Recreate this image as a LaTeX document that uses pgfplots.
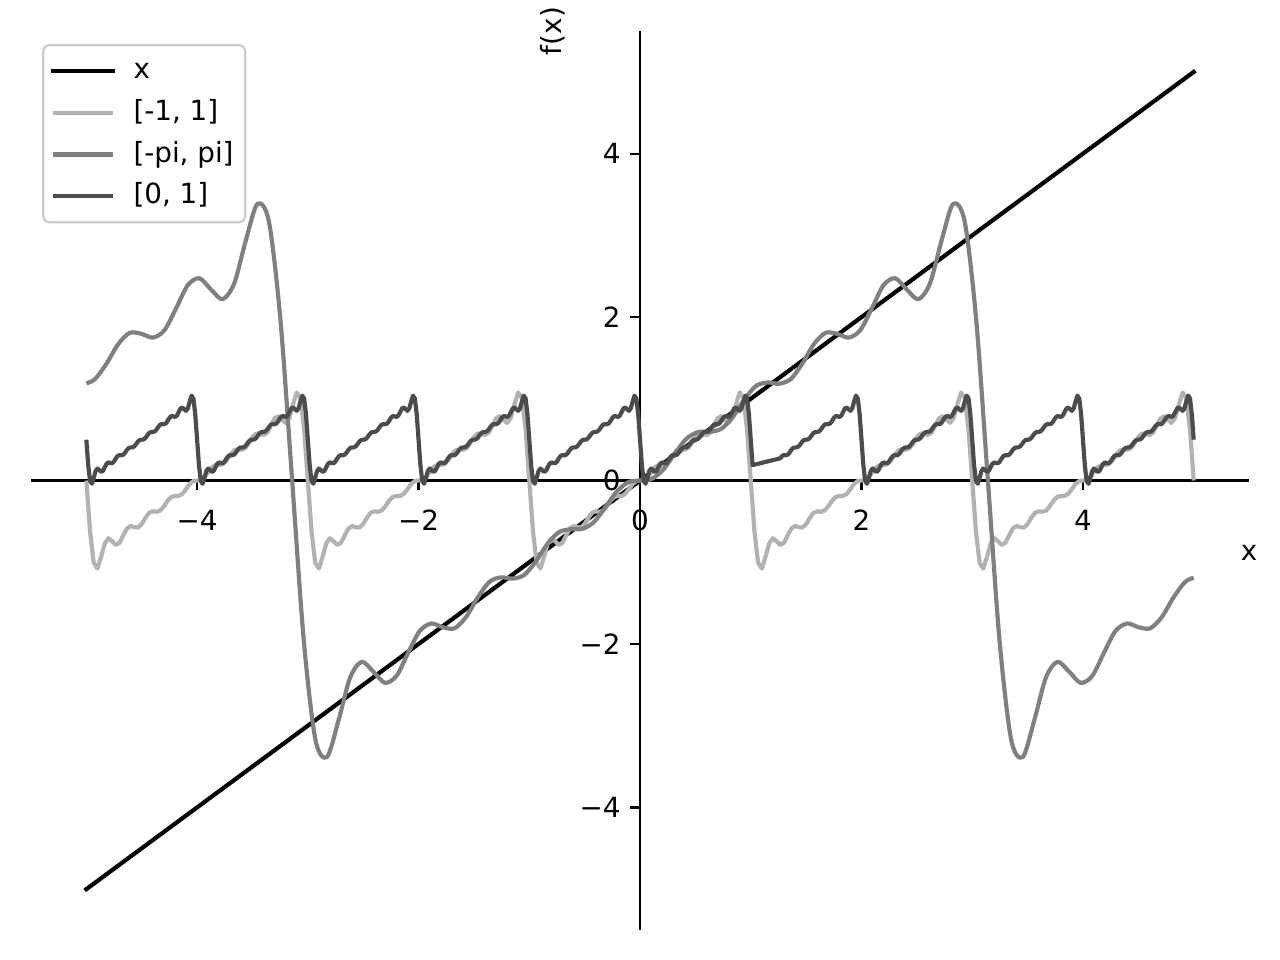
\documentclass[border=0pt]{standalone}
\usepackage{pgfplots}
\pgfplotsset{compat=1.18}
\usepackage{fontspec}
\setmainfont{DejaVu Sans}
\definecolor{clight}{gray}{0.70}
\definecolor{cmid}{gray}{0.50}
\definecolor{cdark}{gray}{0.30}
\begin{document}
\begin{tikzpicture}
\useasboundingbox (0,0) rectangle (460.8pt,345.6pt);
\begin{axis}[
  at={(11.16pt,10.8pt)}, anchor=south west,
  scale only axis, width=438.5pt, height=323.6pt,
  xmin=-5.5, xmax=5.5, ymin=-5.5, ymax=5.5,
  axis lines=middle,
  axis line style={-, line width=0.8pt, black},
  xtick={-4,-2,0,2,4}, xticklabels={−4,−2,0,2,4},
  ytick={-4,-2,0,2,4}, yticklabels={−4,−2,0,2,4},
  hide obscured x ticks=false, hide obscured y ticks=false,
  tick align=outside, major tick length=3.5pt, minor tick num=0,
  every tick/.style={black, line width=0.8pt},
  xticklabel style={yshift=-3.5pt},
  yticklabel style={xshift=0pt},
  xlabel={x}, ylabel={f(x)},
  every axis x label/.style={at={(axis cs:5.5,0)}, anchor=center, yshift=-25.9pt},
  every axis y label/.style={at={(axis cs:0,5.5)}, anchor=center, xshift=-31.5pt, rotate=90},
  legend style={at={(axis description cs:0,1)}, anchor=north west, xshift=4pt, yshift=-4.7pt,
    draw=black!20, line width=0.8pt, rounded corners=2pt, fill=white,
    inner xsep=2.7pt, inner ysep=2.6pt, row sep=1.5pt, column sep=5.2pt,
    nodes={inner sep=1.5pt, text height=8pt, text depth=2.5pt}},
  legend cell align=left,
  legend image code/.code={\draw[#1] (0pt,0pt) -- (21.6pt,0pt);},
  clip=false,
]
% f(x) = x
\addplot[black, line width=1.5pt, line cap=rect] coordinates {(-5,-5) (5,5)};
\addlegendentry{x}
% [-1, 1]
\addplot[clight, line width=1.5pt, line join=round] coordinates {
(-5,0) (-4.9667,-0.621) (-4.9333,-1.008) (-4.9,-1.077) (-4.8667,-0.934) (-4.8333,-0.767) (-4.8,-0.706) (-4.7667,-0.744) (-4.7333,-0.788) (-4.7,-0.761) (-4.6667,-0.671) (-4.6333,-0.586) (-4.6,-0.557) (-4.5667,-0.571) (-4.5333,-0.575) (-4.5,-0.532) (-4.4667,-0.456) (-4.4333,-0.395) (-4.4,-0.377) (-4.3667,-0.382) (-4.3333,-0.368) (-4.3,-0.316) (-4.2667,-0.248) (-4.2333,-0.201) (-4.2,-0.190) (-4.1667,-0.189) (-4.1333,-0.163) (-4.1,-0.105) (-4.0667,-0.042) (-4.0333,-0.006)
(-4,0) (-3.9667,0.006) (-3.9333,0.042) (-3.9,0.105) (-3.8667,0.163) (-3.8333,0.189) (-3.8,0.190) (-3.7667,0.201) (-3.7333,0.248) (-3.7,0.316) (-3.6667,0.368) (-3.6333,0.382) (-3.6,0.377) (-3.5667,0.395) (-3.5333,0.456) (-3.5,0.532) (-3.4667,0.575) (-3.4333,0.571) (-3.4,0.557) (-3.3667,0.586) (-3.3333,0.671) (-3.3,0.761) (-3.2667,0.788) (-3.2333,0.744) (-3.2,0.706) (-3.1667,0.767) (-3.1333,0.934) (-3.1,1.077) (-3.0667,1.008) (-3.0333,0.621)
(-3,0) (-2.9667,-0.621) (-2.9333,-1.008) (-2.9,-1.077) (-2.8667,-0.934) (-2.8333,-0.767) (-2.8,-0.706) (-2.7667,-0.744) (-2.7333,-0.788) (-2.7,-0.761) (-2.6667,-0.671) (-2.6333,-0.586) (-2.6,-0.557) (-2.5667,-0.571) (-2.5333,-0.575) (-2.5,-0.532) (-2.4667,-0.456) (-2.4333,-0.395) (-2.4,-0.377) (-2.3667,-0.382) (-2.3333,-0.368) (-2.3,-0.316) (-2.2667,-0.248) (-2.2333,-0.201) (-2.2,-0.190) (-2.1667,-0.189) (-2.1333,-0.163) (-2.1,-0.105) (-2.0667,-0.042) (-2.0333,-0.006)
(-2,0) (-1.9667,0.006) (-1.9333,0.042) (-1.9,0.105) (-1.8667,0.163) (-1.8333,0.189) (-1.8,0.190) (-1.7667,0.201) (-1.7333,0.248) (-1.7,0.316) (-1.6667,0.368) (-1.6333,0.382) (-1.6,0.377) (-1.5667,0.395) (-1.5333,0.456) (-1.5,0.532) (-1.4667,0.575) (-1.4333,0.571) (-1.4,0.557) (-1.3667,0.586) (-1.3333,0.671) (-1.3,0.761) (-1.2667,0.788) (-1.2333,0.744) (-1.2,0.706) (-1.1667,0.767) (-1.1333,0.934) (-1.1,1.077) (-1.0667,1.008) (-1.0333,0.621)
(-1,0) (-0.9667,-0.621) (-0.9333,-1.008) (-0.9,-1.077) (-0.8667,-0.934) (-0.8333,-0.767) (-0.8,-0.706) (-0.7667,-0.744) (-0.7333,-0.788) (-0.7,-0.761) (-0.6667,-0.671) (-0.6333,-0.586) (-0.6,-0.557) (-0.5667,-0.571) (-0.5333,-0.575) (-0.5,-0.532) (-0.4667,-0.456) (-0.4333,-0.395) (-0.4,-0.377) (-0.3667,-0.382) (-0.3333,-0.368) (-0.3,-0.316) (-0.2667,-0.248) (-0.2333,-0.201) (-0.2,-0.190) (-0.1667,-0.189) (-0.1333,-0.163) (-0.1,-0.105) (-0.0667,-0.042) (-0.0333,-0.006)
(0,0) (0.0333,0.006) (0.0667,0.042) (0.1,0.105) (0.1333,0.163) (0.1667,0.189) (0.2,0.190) (0.2333,0.201) (0.2667,0.248) (0.3,0.316) (0.3333,0.368) (0.3667,0.382) (0.4,0.377) (0.4333,0.395) (0.4667,0.456) (0.5,0.532) (0.5333,0.575) (0.5667,0.571) (0.6,0.557) (0.6333,0.586) (0.6667,0.671) (0.7,0.761) (0.7333,0.788) (0.7667,0.744) (0.8,0.706) (0.8333,0.767) (0.8667,0.934) (0.9,1.077) (0.9333,1.008) (0.9667,0.621)
(1,0) (1.0333,-0.621) (1.0667,-1.008) (1.1,-1.077) (1.1333,-0.934) (1.1667,-0.767) (1.2,-0.706) (1.2333,-0.744) (1.2667,-0.788) (1.3,-0.761) (1.3333,-0.671) (1.3667,-0.586) (1.4,-0.557) (1.4333,-0.571) (1.4667,-0.575) (1.5,-0.532) (1.5333,-0.456) (1.5667,-0.395) (1.6,-0.377) (1.6333,-0.382) (1.6667,-0.368) (1.7,-0.316) (1.7333,-0.248) (1.7667,-0.201) (1.8,-0.190) (1.8333,-0.189) (1.8667,-0.163) (1.9,-0.105) (1.9333,-0.042) (1.9667,-0.006)
(2,0) (2.0333,0.006) (2.0667,0.042) (2.1,0.105) (2.1333,0.163) (2.1667,0.189) (2.2,0.190) (2.2333,0.201) (2.2667,0.248) (2.3,0.316) (2.3333,0.368) (2.3667,0.382) (2.4,0.377) (2.4333,0.395) (2.4667,0.456) (2.5,0.532) (2.5333,0.575) (2.5667,0.571) (2.6,0.557) (2.6333,0.586) (2.6667,0.671) (2.7,0.761) (2.7333,0.788) (2.7667,0.744) (2.8,0.706) (2.8333,0.767) (2.8667,0.934) (2.9,1.077) (2.9333,1.008) (2.9667,0.621)
(3,0) (3.0333,-0.621) (3.0667,-1.008) (3.1,-1.077) (3.1333,-0.934) (3.1667,-0.767) (3.2,-0.706) (3.2333,-0.744) (3.2667,-0.788) (3.3,-0.761) (3.3333,-0.671) (3.3667,-0.586) (3.4,-0.557) (3.4333,-0.571) (3.4667,-0.575) (3.5,-0.532) (3.5333,-0.456) (3.5667,-0.395) (3.6,-0.377) (3.6333,-0.382) (3.6667,-0.368) (3.7,-0.316) (3.7333,-0.248) (3.7667,-0.201) (3.8,-0.190) (3.8333,-0.189) (3.8667,-0.163) (3.9,-0.105) (3.9333,-0.042) (3.9667,-0.006)
(4,0) (4.0333,0.006) (4.0667,0.042) (4.1,0.105) (4.1333,0.163) (4.1667,0.189) (4.2,0.190) (4.2333,0.201) (4.2667,0.248) (4.3,0.316) (4.3333,0.368) (4.3667,0.382) (4.4,0.377) (4.4333,0.395) (4.4667,0.456) (4.5,0.532) (4.5333,0.575) (4.5667,0.571) (4.6,0.557) (4.6333,0.586) (4.6667,0.671) (4.7,0.761) (4.7333,0.788) (4.7667,0.744) (4.8,0.706) (4.8333,0.767) (4.8667,0.934) (4.9,1.077) (4.9333,1.008) (4.9667,0.621)
(5,0)
};
\addlegendentry{[-1, 1]}
% [-pi, pi]
\addplot[cmid, line width=1.5pt, smooth, line join=round] coordinates {
(-5,1.19) (-4.9218,1.2417) (-4.8171,1.4318) (-4.7124,1.6698) (-4.6077,1.8076) (-4.5029,1.7952) (-4.3982,1.7492) (-4.2935,1.8414) (-4.1888,2.1094) (-4.0841,2.3911) (-3.9794,2.4753) (-3.8746,2.3382) (-3.7699,2.2185) (-3.6652,2.4109) (-3.5605,2.9339) (-3.4558,3.3845) (-3.3510,3.1667) (-3.2463,1.9522) (-3.1416,0)
(-3.0369,-1.9522) (-2.9322,-3.1667) (-2.8274,-3.3845) (-2.7227,-2.9339) (-2.6180,-2.4109) (-2.5133,-2.2185) (-2.4086,-2.3382) (-2.3038,-2.4753) (-2.1991,-2.3911) (-2.0944,-2.1094) (-1.9897,-1.8414) (-1.8850,-1.7492) (-1.7802,-1.7952) (-1.6755,-1.8076) (-1.5708,-1.6698) (-1.4661,-1.4318) (-1.3614,-1.2417) (-1.2566,-1.1845) (-1.1519,-1.2002) (-1.0472,-1.1568) (-0.9425,-0.9931) (-0.8378,-0.7784) (-0.7330,-0.6323) (-0.6283,-0.5960) (-0.5236,-0.5923) (-0.4189,-0.5116) (-0.3142,-0.3299) (-0.2094,-0.1324) (-0.1047,-0.0198)
(0,0) (0.1047,0.0198) (0.2094,0.1324) (0.3142,0.3299) (0.4189,0.5116) (0.5236,0.5923) (0.6283,0.5960) (0.7330,0.6323) (0.8378,0.7784) (0.9425,0.9931) (1.0472,1.1568) (1.1519,1.2002) (1.2566,1.1845) (1.3614,1.2417) (1.4661,1.4318) (1.5708,1.6698) (1.6755,1.8076) (1.7802,1.7952) (1.8850,1.7492) (1.9897,1.8414) (2.0944,2.1094) (2.1991,2.3911) (2.3038,2.4753) (2.4086,2.3382) (2.5133,2.2185) (2.6180,2.4109) (2.7227,2.9339) (2.8274,3.3845) (2.9322,3.1667) (3.0369,1.9522)
(3.1416,0) (3.2463,-1.9522) (3.3510,-3.1667) (3.4558,-3.3845) (3.5605,-2.9339) (3.6652,-2.4109) (3.7699,-2.2185) (3.8746,-2.3382) (3.9794,-2.4753) (4.0841,-2.3911) (4.1888,-2.1094) (4.2935,-1.8414) (4.3982,-1.7492) (4.5029,-1.7952) (4.6077,-1.8076) (4.7124,-1.6698) (4.8171,-1.4318) (4.9218,-1.2417) (5,-1.19)
};
\addlegendentry{[-pi, pi]}
% [0, 1]
\addplot[cdark, line width=1.5pt, line join=round] coordinates {
(-5,0.5) (-4.9833,0.189) (-4.9667,-0.004) (-4.95,-0.039) (-4.9333,0.033) (-4.9167,0.116) (-4.9,0.147) (-4.8833,0.128) (-4.8667,0.106) (-4.85,0.119)
(-4.8333,0.164) (-4.8167,0.207) (-4.8,0.222) (-4.7833,0.214) (-4.7667,0.212) (-4.75,0.234) (-4.7333,0.272) (-4.7167,0.302) (-4.7,0.311) (-4.6833,0.309)
(-4.6667,0.316) (-4.65,0.342) (-4.6333,0.376) (-4.6167,0.399) (-4.6,0.405) (-4.5833,0.406) (-4.5667,0.419) (-4.55,0.447) (-4.5333,0.479) (-4.5167,0.497)
(-4.5,0.5) (-4.4833,0.503) (-4.4667,0.521) (-4.45,0.553) (-4.4333,0.581) (-4.4167,0.594) (-4.4,0.595) (-4.3833,0.601) (-4.3667,0.624) (-4.35,0.658)
(-4.3333,0.684) (-4.3167,0.691) (-4.3,0.689) (-4.2833,0.698) (-4.2667,0.728) (-4.25,0.766) (-4.2333,0.788) (-4.2167,0.786) (-4.2,0.778) (-4.1833,0.793)
(-4.1667,0.836) (-4.15,0.881) (-4.1333,0.894) (-4.1167,0.872) (-4.1,0.853) (-4.0833,0.884) (-4.0667,0.967) (-4.05,1.039) (-4.0333,1.004) (-4.0167,0.811)
(-4,0.5) (-3.9833,0.189) (-3.9667,-0.004) (-3.95,-0.039) (-3.9333,0.033) (-3.9167,0.116) (-3.9,0.147) (-3.8833,0.128) (-3.8667,0.106) (-3.85,0.119)
(-3.8333,0.164) (-3.8167,0.207) (-3.8,0.222) (-3.7833,0.214) (-3.7667,0.212) (-3.75,0.234) (-3.7333,0.272) (-3.7167,0.302) (-3.7,0.311) (-3.6833,0.309)
(-3.6667,0.316) (-3.65,0.342) (-3.6333,0.376) (-3.6167,0.399) (-3.6,0.405) (-3.5833,0.406) (-3.5667,0.419) (-3.55,0.447) (-3.5333,0.479) (-3.5167,0.497)
(-3.5,0.5) (-3.4833,0.503) (-3.4667,0.521) (-3.45,0.553) (-3.4333,0.581) (-3.4167,0.594) (-3.4,0.595) (-3.3833,0.601) (-3.3667,0.624) (-3.35,0.658)
(-3.3333,0.684) (-3.3167,0.691) (-3.3,0.689) (-3.2833,0.698) (-3.2667,0.728) (-3.25,0.766) (-3.2333,0.788) (-3.2167,0.786) (-3.2,0.778) (-3.1833,0.793)
(-3.1667,0.836) (-3.15,0.881) (-3.1333,0.894) (-3.1167,0.872) (-3.1,0.853) (-3.0833,0.884) (-3.0667,0.967) (-3.05,1.039) (-3.0333,1.004) (-3.0167,0.811)
(-3,0.5) (-2.9833,0.189) (-2.9667,-0.004) (-2.95,-0.039) (-2.9333,0.033) (-2.9167,0.116) (-2.9,0.147) (-2.8833,0.128) (-2.8667,0.106) (-2.85,0.119)
(-2.8333,0.164) (-2.8167,0.207) (-2.8,0.222) (-2.7833,0.214) (-2.7667,0.212) (-2.75,0.234) (-2.7333,0.272) (-2.7167,0.302) (-2.7,0.311) (-2.6833,0.309)
(-2.6667,0.316) (-2.65,0.342) (-2.6333,0.376) (-2.6167,0.399) (-2.6,0.405) (-2.5833,0.406) (-2.5667,0.419) (-2.55,0.447) (-2.5333,0.479) (-2.5167,0.497)
(-2.5,0.5) (-2.4833,0.503) (-2.4667,0.521) (-2.45,0.553) (-2.4333,0.581) (-2.4167,0.594) (-2.4,0.595) (-2.3833,0.601) (-2.3667,0.624) (-2.35,0.658)
(-2.3333,0.684) (-2.3167,0.691) (-2.3,0.689) (-2.2833,0.698) (-2.2667,0.728) (-2.25,0.766) (-2.2333,0.788) (-2.2167,0.786) (-2.2,0.778) (-2.1833,0.793)
(-2.1667,0.836) (-2.15,0.881) (-2.1333,0.894) (-2.1167,0.872) (-2.1,0.853) (-2.0833,0.884) (-2.0667,0.967) (-2.05,1.039) (-2.0333,1.004) (-2.0167,0.811)
(-2,0.5) (-1.9833,0.189) (-1.9667,-0.004) (-1.95,-0.039) (-1.9333,0.033) (-1.9167,0.116) (-1.9,0.147) (-1.8833,0.128) (-1.8667,0.106) (-1.85,0.119)
(-1.8333,0.164) (-1.8167,0.207) (-1.8,0.222) (-1.7833,0.214) (-1.7667,0.212) (-1.75,0.234) (-1.7333,0.272) (-1.7167,0.302) (-1.7,0.311) (-1.6833,0.309)
(-1.6667,0.316) (-1.65,0.342) (-1.6333,0.376) (-1.6167,0.399) (-1.6,0.405) (-1.5833,0.406) (-1.5667,0.419) (-1.55,0.447) (-1.5333,0.479) (-1.5167,0.497)
(-1.5,0.5) (-1.4833,0.503) (-1.4667,0.521) (-1.45,0.553) (-1.4333,0.581) (-1.4167,0.594) (-1.4,0.595) (-1.3833,0.601) (-1.3667,0.624) (-1.35,0.658)
(-1.3333,0.684) (-1.3167,0.691) (-1.3,0.689) (-1.2833,0.698) (-1.2667,0.728) (-1.25,0.766) (-1.2333,0.788) (-1.2167,0.786) (-1.2,0.778) (-1.1833,0.793)
(-1.1667,0.836) (-1.15,0.881) (-1.1333,0.894) (-1.1167,0.872) (-1.1,0.853) (-1.0833,0.884) (-1.0667,0.967) (-1.05,1.039) (-1.0333,1.004) (-1.0167,0.811)
(-1,0.5) (-0.9833,0.189) (-0.9667,-0.004) (-0.95,-0.039) (-0.9333,0.033) (-0.9167,0.116) (-0.9,0.147) (-0.8833,0.128) (-0.8667,0.106) (-0.85,0.119)
(-0.8333,0.164) (-0.8167,0.207) (-0.8,0.222) (-0.7833,0.214) (-0.7667,0.212) (-0.75,0.234) (-0.7333,0.272) (-0.7167,0.302) (-0.7,0.311) (-0.6833,0.309)
(-0.6667,0.316) (-0.65,0.342) (-0.6333,0.376) (-0.6167,0.399) (-0.6,0.405) (-0.5833,0.406) (-0.5667,0.419) (-0.55,0.447) (-0.5333,0.479) (-0.5167,0.497)
(-0.5,0.5) (-0.4833,0.503) (-0.4667,0.521) (-0.45,0.553) (-0.4333,0.581) (-0.4167,0.594) (-0.4,0.595) (-0.3833,0.601) (-0.3667,0.624) (-0.35,0.658)
(-0.3333,0.684) (-0.3167,0.691) (-0.3,0.689) (-0.2833,0.698) (-0.2667,0.728) (-0.25,0.766) (-0.2333,0.788) (-0.2167,0.786) (-0.2,0.778) (-0.1833,0.793)
(-0.1667,0.836) (-0.15,0.881) (-0.1333,0.894) (-0.1167,0.872) (-0.1,0.853) (-0.0833,0.884) (-0.0667,0.967) (-0.05,1.039) (-0.0333,1.004) (-0.0167,0.811)
(0,0.5) (0.0167,0.189) (0.0333,-0.004) (0.05,-0.039) (0.0667,0.033) (0.0833,0.116) (0.1,0.147) (0.1167,0.128) (0.1333,0.106) (0.15,0.119)
(0.1667,0.164) (0.1833,0.207) (0.2,0.222) (0.2167,0.214) (0.2333,0.212) (0.25,0.234) (0.2667,0.272) (0.2833,0.302) (0.3,0.311) (0.3167,0.309)
(0.3333,0.316) (0.35,0.342) (0.3667,0.376) (0.3833,0.399) (0.4,0.405) (0.4167,0.406) (0.4333,0.419) (0.45,0.447) (0.4667,0.479) (0.4833,0.497)
(0.5,0.5) (0.5167,0.503) (0.5333,0.521) (0.55,0.553) (0.5667,0.581) (0.5833,0.594) (0.6,0.595) (0.6167,0.601) (0.6333,0.624) (0.65,0.658)
(0.6667,0.684) (0.6833,0.691) (0.7,0.689) (0.7167,0.698) (0.7333,0.728) (0.75,0.766) (0.7667,0.788) (0.7833,0.786) (0.8,0.778) (0.8167,0.793)
(0.8333,0.836) (0.85,0.881) (0.8667,0.894) (0.8833,0.872) (0.9,0.853) (0.9167,0.884) (0.9333,0.967) (0.95,1.039) (0.9667,1.004) (0.9833,0.811)
(1,0.5) (1.0167,0.189)
(1.2667,0.272) (1.2833,0.302) (1.3,0.311) (1.3167,0.309)
(1.3333,0.316) (1.35,0.342) (1.3667,0.376) (1.3833,0.399) (1.4,0.405) (1.4167,0.406) (1.4333,0.419) (1.45,0.447) (1.4667,0.479) (1.4833,0.497)
(1.5,0.5) (1.5167,0.503) (1.5333,0.521) (1.55,0.553) (1.5667,0.581) (1.5833,0.594) (1.6,0.595) (1.6167,0.601) (1.6333,0.624) (1.65,0.658)
(1.6667,0.684) (1.6833,0.691) (1.7,0.689) (1.7167,0.698) (1.7333,0.728) (1.75,0.766) (1.7667,0.788) (1.7833,0.786) (1.8,0.778) (1.8167,0.793)
(1.8333,0.836) (1.85,0.881) (1.8667,0.894) (1.8833,0.872) (1.9,0.853) (1.9167,0.884) (1.9333,0.967) (1.95,1.039) (1.9667,1.004) (1.9833,0.811)
(2,0.5) (2.0167,0.189) (2.0333,-0.004) (2.05,-0.039) (2.0667,0.033) (2.0833,0.116) (2.1,0.147) (2.1167,0.128) (2.1333,0.106) (2.15,0.119)
(2.1667,0.164) (2.1833,0.207) (2.2,0.222) (2.2167,0.214) (2.2333,0.212) (2.25,0.234) (2.2667,0.272) (2.2833,0.302) (2.3,0.311) (2.3167,0.309)
(2.3333,0.316) (2.35,0.342) (2.3667,0.376) (2.3833,0.399) (2.4,0.405) (2.4167,0.406) (2.4333,0.419) (2.45,0.447) (2.4667,0.479) (2.4833,0.497)
(2.5,0.5) (2.5167,0.503) (2.5333,0.521) (2.55,0.553) (2.5667,0.581) (2.5833,0.594) (2.6,0.595) (2.6167,0.601) (2.6333,0.624) (2.65,0.658)
(2.6667,0.684) (2.6833,0.691) (2.7,0.689) (2.7167,0.698) (2.7333,0.728) (2.75,0.766) (2.7667,0.788) (2.7833,0.786) (2.8,0.778) (2.8167,0.793)
(2.8333,0.836) (2.85,0.881) (2.8667,0.894) (2.8833,0.872) (2.9,0.853) (2.9167,0.884) (2.9333,0.967) (2.95,1.039) (2.9667,1.004) (2.9833,0.811)
(3,0.5) (3.0167,0.189) (3.0333,-0.004) (3.05,-0.039) (3.0667,0.033) (3.0833,0.116) (3.1,0.147) (3.1167,0.128) (3.1333,0.106) (3.15,0.119)
(3.1667,0.164) (3.1833,0.207) (3.2,0.222) (3.2167,0.214) (3.2333,0.212) (3.25,0.234) (3.2667,0.272) (3.2833,0.302) (3.3,0.311) (3.3167,0.309)
(3.3333,0.316) (3.35,0.342) (3.3667,0.376) (3.3833,0.399) (3.4,0.405) (3.4167,0.406) (3.4333,0.419) (3.45,0.447) (3.4667,0.479) (3.4833,0.497)
(3.5,0.5) (3.5167,0.503) (3.5333,0.521) (3.55,0.553) (3.5667,0.581) (3.5833,0.594) (3.6,0.595) (3.6167,0.601) (3.6333,0.624) (3.65,0.658)
(3.6667,0.684) (3.6833,0.691) (3.7,0.689) (3.7167,0.698) (3.7333,0.728) (3.75,0.766) (3.7667,0.788) (3.7833,0.786) (3.8,0.778) (3.8167,0.793)
(3.8333,0.836) (3.85,0.881) (3.8667,0.894) (3.8833,0.872) (3.9,0.853) (3.9167,0.884) (3.9333,0.967) (3.95,1.039) (3.9667,1.004) (3.9833,0.811)
(4,0.5) (4.0167,0.189) (4.0333,-0.004) (4.05,-0.039) (4.0667,0.033) (4.0833,0.116) (4.1,0.147) (4.1167,0.128) (4.1333,0.106) (4.15,0.119)
(4.1667,0.164) (4.1833,0.207) (4.2,0.222) (4.2167,0.214) (4.2333,0.212) (4.25,0.234) (4.2667,0.272) (4.2833,0.302) (4.3,0.311) (4.3167,0.309)
(4.3333,0.316) (4.35,0.342) (4.3667,0.376) (4.3833,0.399) (4.4,0.405) (4.4167,0.406) (4.4333,0.419) (4.45,0.447) (4.4667,0.479) (4.4833,0.497)
(4.5,0.5) (4.5167,0.503) (4.5333,0.521) (4.55,0.553) (4.5667,0.581) (4.5833,0.594) (4.6,0.595) (4.6167,0.601) (4.6333,0.624) (4.65,0.658)
(4.6667,0.684) (4.6833,0.691) (4.7,0.689) (4.7167,0.698) (4.7333,0.728) (4.75,0.766) (4.7667,0.788) (4.7833,0.786) (4.8,0.778) (4.8167,0.793)
(4.8333,0.836) (4.85,0.881) (4.8667,0.894) (4.8833,0.872) (4.9,0.853) (4.9167,0.884) (4.9333,0.967) (4.95,1.039) (4.9667,1.004) (4.9833,0.811)
(5,0.5)
};
\addlegendentry{[0, 1]}
\end{axis}
\end{tikzpicture}
\end{document}
